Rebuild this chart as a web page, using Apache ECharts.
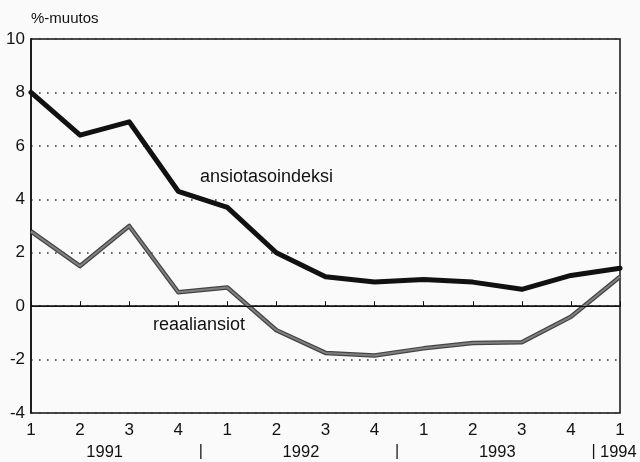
<!DOCTYPE html>
<html>
<head>
<meta charset="utf-8">
<script src="https://cdn.jsdelivr.net/npm/echarts@6/dist/echarts.min.js"></script>
<style>
html,body{margin:0;padding:0;background:#fafafa;}
#c{width:640px;height:462px;}
</style>
</head>
<body>
<div id="c"></div>
<script>
var quarters = ['1','2','3','4','1','2','3','4','1','2','3','4','1'];
var years = ['1991','1992','1993','1994'];
var ansiotasoindeksi = [8.0, 6.4, 6.9, 4.3, 3.7, 2.0, 1.1, 0.9, 1.0, 0.9, 0.63, 1.15, 1.42];
var reaaliansiot = [2.8, 1.5, 3.0, 0.52, 0.7, -0.9, -1.75, -1.85, -1.58, -1.38, -1.35, -0.4, 1.1];
var yTicks = [-4, -2, 0, 2, 4, 6, 8, 10];

var FONT = '"Liberation Sans", Arial, sans-serif';
var chart = echarts.init(document.getElementById('c'), null, {renderer:'canvas'});
var option = {
  backgroundColor: '#fafafa',
  animation: false,
  grid: {left: 31, right: 20, top: 39, bottom: 49, show: true, borderColor: '#111', borderWidth: 1.5, backgroundColor: 'transparent'},
  xAxis: {
    type: 'category', data: quarters, boundaryGap: false,
    axisLine: {lineStyle: {color: '#111', width: 1.5}},
    axisTick: {inside: true, length: 5, lineStyle: {color: '#111', width: 1}},
    axisLabel: {color: '#111', fontFamily: FONT, fontSize: 17, margin: 9, interval: 0},
    splitLine: {show: false}
  },
  yAxis: {
    type: 'value', min: yTicks[0], max: yTicks[yTicks.length-1], interval: 2,
    name: '%-muutos', nameLocation: 'end', nameGap: 13,
    nameTextStyle: {color: '#111', fontFamily: FONT, fontSize: 15, align: 'left', padding: [0,0,0,0]},
    axisLine: {show: true, lineStyle: {color: '#111', width: 1.5}},
    axisTick: {show: false},
    axisLabel: {color: '#111', fontFamily: FONT, fontSize: 17, margin: 6},
    splitLine: {show: true, lineStyle: {color: '#333', width: 1.6, type: [1.6, 6.4]}}
  },
  series: [
    {
      type: 'line', data: ansiotasoindeksi, symbol: 'none', z: 5,
      lineStyle: {color: '#111', width: 5, join: 'round', cap: 'round'},
      markLine: {silent: true, symbol: 'none', label: {show: false},
        lineStyle: {color: '#111', width: 1.2, type: 'solid'}, data: [{yAxis: 0}]}
    },
    {
      type: 'line', data: reaaliansiot, symbol: 'none', z: 3,
      lineStyle: {color: '#444', width: 4.5, join: 'round'}
    },
    {
      type: 'line', data: reaaliansiot, symbol: 'none', z: 4,
      lineStyle: {color: '#808080', width: 2, join: 'round'}
    }
  ]
};
chart.setOption(option);

function px(i){ return chart.convertToPixel({xAxisIndex:0}, i); }
var baseY = 452;
var g = [];
for (var k = 0; k < 3; k++) {
  var mid = (px(4*k+1) + px(4*k+2)) / 2;
  g.push({type:'text', x: mid, y: baseY, style:{text: years[k], font: '16.5px ' + FONT, fill:'#111', textAlign:'center', textVerticalAlign:'middle'}});
  var sep = (px(4*k+3) + px(4*k+4)) / 2;
  g.push({type:'text', x: sep - 2, y: baseY, style:{text: '|', font: '16px ' + FONT, fill:'#111', textAlign:'center', textVerticalAlign:'middle'}});
}
g.push({type:'text', x: px(12) - 20, y: baseY, style:{text: years[3], font: '16.5px ' + FONT, fill:'#111', textAlign:'left', textVerticalAlign:'middle'}});
// series annotations
g.push({type:'text', x: 200, y: 177, style:{text: 'ansiotasoindeksi', font: '18px ' + FONT, fill:'#111', textAlign:'left', textVerticalAlign:'middle'}});
g.push({type:'text', x: 153, y: 325, style:{text: 'reaaliansiot', font: '18px ' + FONT, fill:'#111', textAlign:'left', textVerticalAlign:'middle'}});
chart.setOption({graphic: g});
</script>
</body>
</html>
